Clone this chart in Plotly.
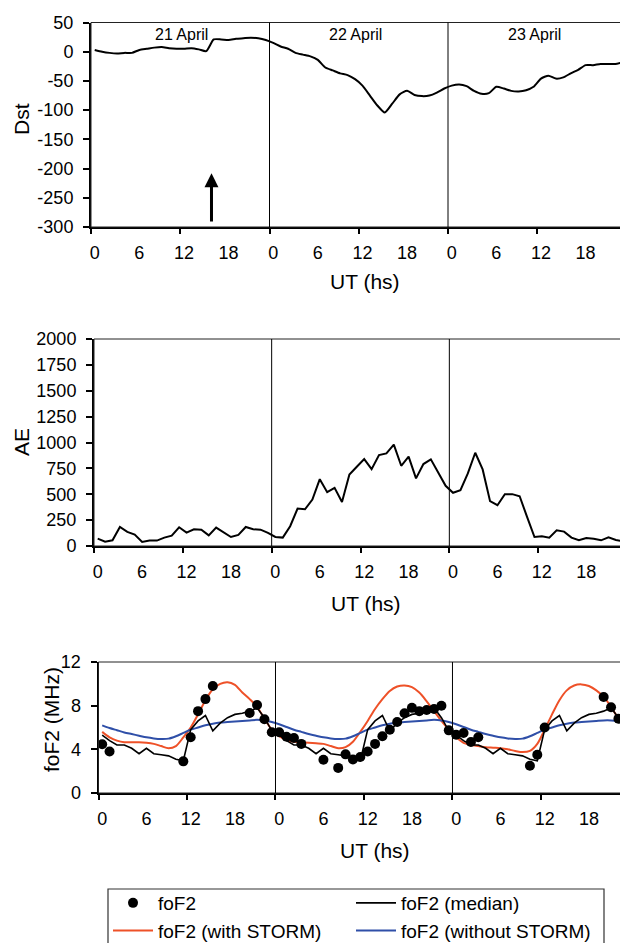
import plotly.graph_objects as go

# ---------------- data ----------------
hours = [i + 0.5 for i in range(72)]

dst = [3, 0, -2, -3, -2, -2, 3, 5, 7, 8, 6, 5, 5, 6, 4, 1, 21, 21, 20, 22, 23, 24, 23, 20,
       15, 9, 5, -2, -5, -8, -14, -27, -32, -37, -40, -47, -58, -75, -92, -104, -89, -73, -67, -74, -76, -75, -70, -63,
       -58, -56, -59, -67, -72, -71, -60, -63, -67, -68, -66, -60, -46, -41, -46, -44, -37, -31, -23, -23, -21, -21, -21, -18]

ae = [71, 42, 55, 184, 136, 110, 39, 52, 52, 81, 100, 181, 129, 162, 158, 103, 178, 132, 87, 107, 184, 162, 158, 126,
      87, 81, 191, 362, 355, 449, 646, 520, 562, 426, 691, 766, 840, 743, 879, 895, 979, 775, 863, 653, 792, 837, 708, 582,
      514, 540, 701, 901, 740, 433, 394, 501, 501, 481, 281, 87, 94, 81, 152, 139, 81, 55, 78, 71, 55, 84, 58, 45]

fof2_hours = [0.5, 1.5, 11.5, 12.5, 13.5, 14.5, 15.5, 20.5, 21.5, 22.5, 23.5,
              24.5, 25.5, 26.5, 27.5, 30.5, 32.5, 33.5, 34.5, 35.5, 36.5, 37.5, 38.5, 39.5, 40.5, 41.5, 42.5,
              43.5, 44.5, 45.5, 46.5,
              47.5, 48.5, 49.5, 50.5, 51.5, 58.5, 59.5, 60.5, 68.5, 69.5, 70.5, 71.5]
fof2_obs = [4.46, 3.8, 2.9, 5.1, 7.5, 8.6, 9.8, 7.33, 8.06, 6.75, 5.56,
            5.56, 5.16, 5.04, 4.5, 3.05, 2.3, 3.54, 3.08, 3.3, 3.8, 4.5, 5.2, 5.8, 6.5, 7.3, 7.8,
            7.5, 7.6, 7.7, 8.0,
            5.74, 5.34, 5.5, 4.67, 5.1, 2.5, 3.5, 6.0, 8.8, 7.85, 6.8, 4.8]

fof2_median = [5.3, 4.8, 4.4, 4.4, 4.1, 3.6, 4.1, 3.6, 3.5, 3.4, 3.1, 2.95, 5.8, 6.6, 7.1, 5.7, 6.4, 6.9, 7.2, 7.3, 7.5, 7.8, 6.9, 5.7,
               5.3, 4.8, 4.4, 4.4, 4.1, 3.6, 4.1, 3.6, 3.5, 3.4, 3.1, 2.95, 5.8, 6.6, 7.1, 5.7, 6.4, 6.9, 7.2, 7.3, 7.5, 7.8, 6.9, 5.7,
               5.3, 4.8, 4.4, 4.4, 4.1, 3.6, 4.1, 3.6, 3.5, 3.4, 3.1, 2.95, 5.8, 6.6, 7.1, 5.7, 6.4, 6.9, 7.2, 7.3, 7.5, 7.8, 6.9, 5.7]

fof2_storm = [5.6, 5.1, 4.8, 4.65, 4.65, 4.65, 4.6, 4.5, 4.3, 4.1, 4.3, 5.1, 6.0, 7.2, 8.5, 9.5, 10.0, 10.15, 9.9, 9.2, 8.6, 7.9, 6.8, 5.8,
              5.2, 4.85, 4.7, 4.65, 4.6, 4.55, 4.5, 4.3, 4.1, 4.2, 4.7, 5.6, 6.6, 7.7, 8.6, 9.35, 9.75, 9.85, 9.7, 9.2, 8.4, 7.5, 6.6, 5.8,
              5.1, 4.6, 4.4, 4.3, 4.2, 4.15, 4.1, 4.0, 3.85, 3.75, 3.85, 4.5, 5.8, 7.2, 8.5, 9.4, 9.85, 9.95, 9.8, 9.4, 8.8, 7.9, 6.8, 5.9]

fof2_quiet = [6.2, 5.95, 5.75, 5.55, 5.4, 5.25, 5.1, 5.0, 4.95, 4.98, 5.2, 5.5, 5.8, 6.0, 6.2, 6.35, 6.45, 6.5, 6.55, 6.6, 6.65, 6.7, 6.65, 6.5,
              6.3, 6.05, 5.8, 5.6, 5.4, 5.25, 5.1, 5.0, 4.95, 4.98, 5.2, 5.5, 5.8, 6.0, 6.2, 6.35, 6.45, 6.5, 6.55, 6.6, 6.65, 6.7, 6.65, 6.5,
              6.3, 6.05, 5.8, 5.6, 5.4, 5.25, 5.1, 5.0, 4.95, 4.98, 5.2, 5.5, 5.8, 6.0, 6.2, 6.35, 6.45, 6.5, 6.55, 6.6, 6.65, 6.65, 6.6, 6.5]

tick_pos = [0.5, 6.5, 12.5, 18.5, 24.5, 30.5, 36.5, 42.5, 48.5, 54.5, 60.5, 66.5]
tick_text = ["0", "6", "12", "18", "0", "6", "12", "18", "0", "6", "12", "18"]
major_ticks = [0, 12, 24, 36, 48, 60, 72]
dst_ticks = [-300, -250, -200, -150, -100, -50, 0, 50]
dst_tick_text = ["-300", "-250", "-200", "-150", "-100", "-50", "0", "50"]
ae_ticks = [0, 250, 500, 750, 1000, 1250, 1500, 1750, 2000]
fof2_ticks = [0, 4, 8, 12]
day_labels = ["21 April", "22 April", "23 April"]
day_label_x = [12.2, 35.6, 59.6]
day_bounds = [24, 48]

# ---------------- figure ----------------
# the page body has an 8px margin, so the figure is drawn 8px in from the window corner
OFF = 8
W, H = 628 - OFF, 943 - OFF
FONT = "Liberation Sans, Arial, sans-serif"
RED = "#EE5128"
BLUE = "#2F4FA8"

fig = go.Figure()

fig.add_trace(go.Scatter(x=hours, y=dst, mode="lines", line=dict(color="black", width=2, shape="spline", smoothing=0.6),
                         xaxis="x", yaxis="y", showlegend=False))
fig.add_trace(go.Scatter(x=hours, y=ae, mode="lines", line=dict(color="black", width=2),
                         xaxis="x2", yaxis="y2", showlegend=False))

fig.add_trace(go.Scatter(x=hours, y=fof2_storm, mode="lines", name="foF2 (with STORM)",
                         line=dict(color=RED, width=2, shape="spline", smoothing=0.8),
                         xaxis="x3", yaxis="y3", legendrank=3))
fig.add_trace(go.Scatter(x=hours, y=fof2_quiet, mode="lines", name="foF2 (without STORM)",
                         line=dict(color=BLUE, width=2, shape="spline", smoothing=0.8),
                         xaxis="x3", yaxis="y3", legendrank=4))
fig.add_trace(go.Scatter(x=hours, y=fof2_median, mode="lines", name="foF2 (median)",
                         line=dict(color="black", width=1.6),
                         xaxis="x3", yaxis="y3", legendrank=2))
fig.add_trace(go.Scatter(x=fof2_hours, y=fof2_obs, mode="markers", name="foF2",
                         marker=dict(color="black", size=10),
                         xaxis="x3", yaxis="y3", legendrank=1))


def px_x(p):
    return (p - OFF) / W


def px_y(p):
    return 1 - (p - OFF) / H


panels = [
    # (xaxis name, yaxis name, left, right, top, bottom, yrange, ytickvals, yticktext, xmax)
    ("xaxis", "yaxis", 91, 626.5, 22.5, 227, [-300, 50], dst_ticks, dst_tick_text, 72),
    ("xaxis2", "yaxis2", 94, 627, 339, 546, [0, 2000], ae_ticks, [str(v) for v in ae_ticks], 72),
    ("xaxis3", "yaxis3", 98.5, 628, 662, 793, [0, 12], fof2_ticks, [str(v) for v in fof2_ticks], 71.8),
]

axis_line = dict(showline=True, linecolor="black", linewidth=2, showgrid=False, zeroline=False)
tickfont = dict(family=FONT, size=18, color="black")

layout = dict(
    width=W, height=H, margin=dict(l=0, r=0, t=0, b=0, autoexpand=False),
    paper_bgcolor="white", plot_bgcolor="white",
    font=dict(family=FONT, color="black"),
    shapes=[], annotations=[],
)

for k, (xa, ya, l, r, t, b, yr, yt, ytt, xmax) in enumerate(panels):
    ysuffix = "" if k == 0 else str(k + 1)
    layout[xa] = dict(
        domain=[px_x(l), min(1.0, px_x(r))], range=[0, xmax], anchor="y" + ysuffix,
        tickmode="array", tickvals=tick_pos, ticktext=tick_text, ticks="",
        tickfont=tickfont, ticklabelstandoff=8,
        minor=dict(tickmode="array", tickvals=major_ticks, ticks="outside", ticklen=5,
                   tickwidth=1.5, tickcolor="black"),
        fixedrange=True, **axis_line)
    layout[ya] = dict(
        domain=[px_y(b), px_y(t)], range=yr, anchor="x" + ysuffix,
        tickmode="array", tickvals=yt, ticktext=ytt, ticks="outside", ticklen=6, tickwidth=1.5,
        tickcolor="black", tickfont=tickfont, ticklabelstandoff=6, fixedrange=True, **axis_line)
    xref = "x" + ysuffix
    yref = "y" + ysuffix
    # thin box (top / right)
    layout["shapes"].append(dict(type="rect", xref=xref + " domain", yref=yref + " domain",
                                 x0=0, x1=1, y0=0, y1=1, line=dict(color="#222222", width=1)))
    for d in day_bounds:
        layout["shapes"].append(dict(type="line", xref=xref, yref=yref + " domain",
                                     x0=d, x1=d, y0=0, y1=1, line=dict(color="black", width=1)))


def ann(text, x, y, angle=0, size=21):
    layout["annotations"].append(dict(text=text, x=px_x(x), y=px_y(y), xref="paper", yref="paper",
                                      showarrow=False, textangle=angle,
                                      font=dict(family=FONT, size=size, color="black"),
                                      xanchor="center", yanchor="middle"))


ann("Dst", 22, 119, -90)
ann("AE", 22, 442, -90)
ann("foF2 (MHz)", 51, 720, -90)
ann("UT (hs)", 365, 282)
ann("UT (hs)", 366, 603)
ann("UT (hs)", 375, 850)

for lab, xv in zip(day_labels, day_label_x):
    layout["annotations"].append(dict(text=lab, x=xv, y=29, xref="x", yref="y", showarrow=False,
                                      font=dict(family=FONT, size=16, color="black"),
                                      xanchor="center", yanchor="middle"))

# storm sudden commencement arrow
layout["annotations"].append(dict(x=16.2, y=-208, ax=16.2, ay=-293, xref="x", yref="y", axref="x", ayref="y",
                                  text="", showarrow=True, arrowhead=2, arrowwidth=3, arrowsize=0.93,
                                  arrowcolor="black", standoff=0))

# legend frame (drawn as a shape so its top edge sits exactly where the reference has it)
layout["shapes"].append(dict(type="rect", xref="paper", yref="paper",
                             x0=px_x(108), x1=px_x(604), y0=px_y(960), y1=px_y(889),
                             line=dict(color="#333333", width=1.2), fillcolor="rgba(0,0,0,0)"))

layout["legend"] = dict(orientation="h", x=px_x(108), y=px_y(884), xanchor="left", yanchor="top",
                        borderwidth=0, bgcolor="rgba(0,0,0,0)",
                        font=dict(family=FONT, size=19, color="black"),
                        entrywidth=188, entrywidthmode="pixels", itemwidth=40, traceorder="normal")

fig.update_layout(**layout)
fig.write_html("out.html")
